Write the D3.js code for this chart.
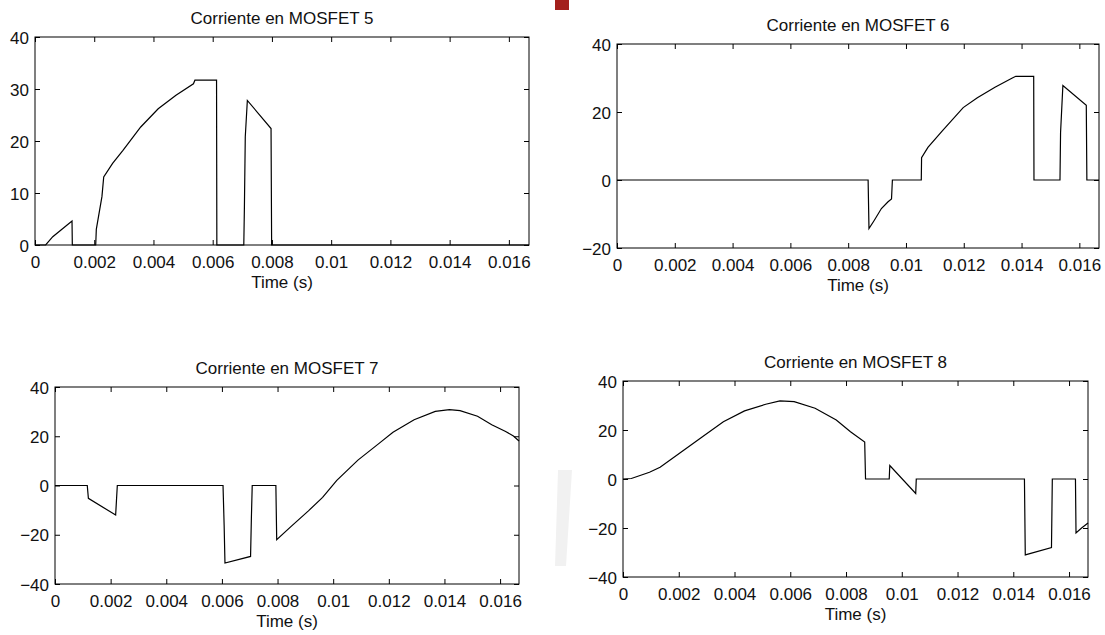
<!DOCTYPE html>
<html>
<head>
<meta charset="utf-8">
<script src="https://cdn.jsdelivr.net/npm/d3@7"></script>
<style>
  html, body { margin: 0; padding: 0; background: #fff; }
  svg { display: block; }
  text { font-family: "Liberation Sans", Arial, Helvetica, sans-serif; fill: #111; }
</style>
</head>
<body>
<svg id="chart" width="1105" height="635"></svg>
<script>
// ---------------- data ----------------
const titles = ["Corriente en MOSFET 5", "Corriente en MOSFET 6", "Corriente en MOSFET 7", "Corriente en MOSFET 8"];
const xLabel = "Time (s)";
const xTicks = [0, 0.002, 0.004, 0.006, 0.008, 0.01, 0.012, 0.014, 0.016];
const yTicks5 = [0, 10, 20, 30, 40];
const yTicks6 = [-20, 0, 20, 40];
const yTicks7 = [-40, -20, 0, 20, 40];
const yTicks8 = [-40, -20, 0, 20, 40];

const t5 = [0, 0.00036, 0.0006, 0.00125, 0.00126, 0.00205, 0.00207, 0.00226, 0.00232, 0.00262, 0.00297, 0.00357, 0.00416, 0.00476, 0.00535, 0.0054, 0.00613, 0.00614, 0.00705, 0.00707, 0.0071, 0.00717, 0.00797, 0.00799, 0.01668];
const i5 = [0, 0, 1.6, 4.6, 0, 0, 3, 9.3, 13.1, 15.7, 18.2, 22.7, 26.2, 28.8, 31.0, 31.7, 31.7, 0, 0, 7, 20.8, 27.8, 22.4, 0, 0];

const t6 = [0, 0.00869, 0.00872, 0.0089, 0.00915, 0.00938, 0.0095, 0.00953, 0.01053, 0.01054, 0.01076, 0.01125, 0.01198, 0.01247, 0.01308, 0.01368, 0.0138, 0.01442, 0.01443, 0.01533, 0.01535, 0.01543, 0.01624, 0.01626, 0.01668];
const i6 = [0, 0, -14.3, -11.9, -8.4, -6.4, -5.6, 0, 0, 6.6, 9.6, 14.4, 21.3, 24.2, 27.3, 30.0, 30.5, 30.5, 0, 0, 14, 27.8, 22, 0, 0];

const t7 = [0, 0.00116, 0.0012, 0.00218, 0.00221, 0.00224, 0.00604, 0.00608, 0.00611, 0.00703, 0.00706, 0.00709, 0.00794, 0.00797, 0.00848, 0.00911, 0.00962, 0.01013, 0.01089, 0.01165, 0.01215, 0.01291, 0.01367, 0.01418, 0.01456, 0.01519, 0.0157, 0.0162, 0.01648, 0.01668];
const i7 = [0, 0, -5.2, -12, -6, 0, 0, -16, -31.5, -28.8, -13, 0, 0, -22, -16.7, -10.3, -4.8, 2.1, 10.3, 17.1, 21.6, 26.7, 30.1, 30.8, 30.4, 28.1, 24.7, 21.9, 20.1, 18.1];

const t8 = [0, 0.0003, 0.00095, 0.00133, 0.00209, 0.00285, 0.0036, 0.00436, 0.00512, 0.00563, 0.00614, 0.00689, 0.00765, 0.00816, 0.00867, 0.0087, 0.00955, 0.00957, 0.0105, 0.01052, 0.0144, 0.01443, 0.01537, 0.0154, 0.01623, 0.01625, 0.01645, 0.01668];
const i8 = [0, 0.2, 2.75, 4.8, 11, 17.2, 23.4, 27.8, 30.5, 31.9, 31.6, 28.9, 24.1, 19.3, 15.1, 0, 0, 5.5, -5.9, 0, 0, -31, -28, 0, 0, -22, -20, -18];

// ---------------- layout ----------------
const xMax = 0.01668;
const panels = [
  { title: titles[0], t: t5, v: i5, yDom: [0, 40],   yTicks: yTicks5, left: 35,  right: 529,  top: 37,  bottom: 245 },
  { title: titles[1], t: t6, v: i6, yDom: [-20, 40], yTicks: yTicks6, left: 617, right: 1099, top: 44,  bottom: 248 },
  { title: titles[2], t: t7, v: i7, yDom: [-40, 40], yTicks: yTicks7, left: 55,  right: 519,  top: 387, bottom: 584 },
  { title: titles[3], t: t8, v: i8, yDom: [-40, 40], yTicks: yTicks8, left: 623, right: 1088, top: 381, bottom: 577 }
];

const svg = d3.select("#chart");
const FS = 17;
const fmt = d => String(+d.toFixed(4));

// decorations from the source picture
svg.append("rect").attr("x", 555).attr("y", 0).attr("width", 14).attr("height", 10).attr("fill", "#a3201c");
svg.append("polygon").attr("points", "558,470 572,470 566,566 555,566").attr("fill", "#f1f1f1");

panels.forEach((p, k) => {
  const x = d3.scaleLinear().domain([0, xMax]).range([p.left, p.right]);
  const y = d3.scaleLinear().domain(p.yDom).range([p.bottom, p.top]);
  const g = svg.append("g");

  // bottom axis
  const bx = g.append("g").attr("transform", `translate(0,${p.bottom})`)
    .call(d3.axisBottom(x).tickValues(xTicks).tickFormat(fmt).tickSize(-5).tickSizeOuter(0));
  bx.selectAll("text").attr("y", 23).attr("dy", null).style("font-size", FS + "px");
  // top axis
  g.append("g").attr("transform", `translate(0,${p.top})`)
    .call(d3.axisTop(x).tickValues(xTicks).tickFormat("").tickSize(-5).tickSizeOuter(0));
  // left axis
  const ly = g.append("g").attr("transform", `translate(${p.left},0)`)
    .call(d3.axisLeft(y).tickValues(p.yTicks).tickFormat(d3.format("d")).tickSize(-5).tickSizeOuter(0));
  ly.selectAll("text").attr("x", -6).attr("dy", "0.36em").style("font-size", FS + "px");
  // right axis
  g.append("g").attr("transform", `translate(${p.right},0)`)
    .call(d3.axisRight(y).tickValues(p.yTicks).tickFormat("").tickSize(-5).tickSizeOuter(0));

  g.selectAll(".domain").remove();
  g.selectAll(".tick line").attr("stroke", "#000");
  g.selectAll(".tick text").attr("fill", "#111").style("font-family", "Liberation Sans, Arial, sans-serif");

  // box
  g.append("rect").attr("x", p.left).attr("y", p.top)
    .attr("width", p.right - p.left).attr("height", p.bottom - p.top)
    .attr("fill", "none").attr("stroke", "#000").attr("stroke-width", 1);

  // data line
  const pts = p.t.map((tt, j) => [tt, p.v[j]]);
  g.append("path").datum(pts)
    .attr("d", d3.line().x(d => x(d[0])).y(d => y(d[1])))
    .attr("fill", "none").attr("stroke", "#000").attr("stroke-width", 1.2);

  // title
  g.append("text").attr("x", (p.left + p.right) / 2).attr("y", p.top - 13)
    .attr("text-anchor", "middle").style("font-size", FS + "px").text(p.title);
  // x label
  g.append("text").attr("x", (p.left + p.right) / 2).attr("y", p.bottom + 43)
    .attr("text-anchor", "middle").style("font-size", FS + "px").text(xLabel);
});
</script>
</body>
</html>
